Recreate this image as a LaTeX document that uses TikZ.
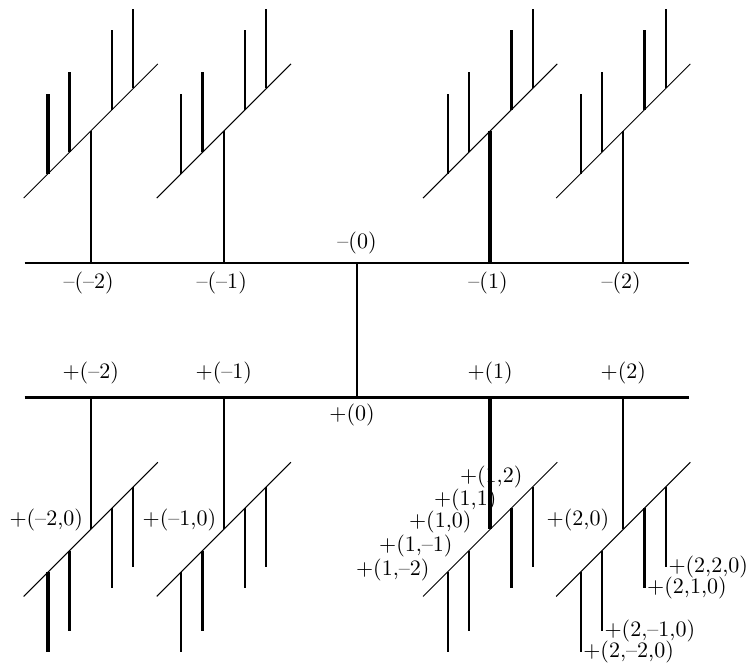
\documentclass[tikz,border=0pt]{standalone}
\usetikzlibrary{calc}
\begin{document}
\begin{tikzpicture}[x=0.34cm, y=0.34cm,
  bar/.style={line width=1.3pt},
  stem/.style={line width=0.9pt},
  heavy/.style={line width=1.6pt},
  diag/.style={line width=0.45pt},
  tag/.style={inner sep=1pt}]
  \useasboundingbox (-16.76,-18.83) rectangle (18.45,12.35);
  % the two bars and the link between them
  \coordinate (mL) at (-15.6,0);  \coordinate (mR) at (15.6,0);
  \coordinate (pL) at (-15.6,-6.3); \coordinate (pR) at (15.6,-6.3);
  \coordinate (m0) at (0,0);  \coordinate (p0) at (0,-6.3);
  \draw[bar] (mL) -- (mR);
  \draw[bar] (pL) -- (pR);
  \draw[stem] (m0) -- (p0);
  \node (ml0) at (0,0.94) {--(0)};
  \node (pl0) at (-0.23,-7.14) {+(0)};
  % one tree above and one below each point of the bars
  \foreach \k/\x/\lbl/\ms/\sa/\sb/\sc/\sd in {
      -2/-12.5/--2/stem/heavy/heavy/stem/stem,
      -1/-6.25/--1/stem/stem/heavy/stem/stem,
       1/6.25/1/heavy/stem/stem/heavy/stem,
       2/12.5/2/stem/stem/stem/heavy/stem}{
    \coordinate (m\k) at (\x,0);
    \coordinate (p\k) at (\x,-6.3);
    \coordinate (mj\k) at (\x,6.2);
    \coordinate (pj\k) at (\x,-12.5);
    \node (ml\k) at ($(m\k)+(-0.1,-0.94)$) {--(\lbl)};
    \node (pl\k) at ($(p\k)+(0,1.14)$) {+(\lbl)};
    \draw[\ms] (m\k) -- (mj\k);
    \draw[\ms] (p\k) -- (pj\k);
    \foreach \s in {m,p}{
      \coordinate (\s a\k) at ($(\s j\k)+(-3.15,-3.15)$);
      \coordinate (\s b\k) at ($(\s j\k)+(3.15,3.15)$);
      \draw[diag] (\s a\k) -- (\s b\k);
    }
    \foreach \d/\st in {-2/\sa,-1/\sb,1/\sc,2/\sd}{
      \coordinate (mr\k\d) at ($(mj\k)+(\d,\d)$);
      \coordinate (mt\k\d) at ($(mr\k\d)+(0,3.75)$);
      \coordinate (pr\k\d) at ($(pj\k)+(\d,\d)$);
      \coordinate (pt\k\d) at ($(pr\k\d)+(0,-3.75)$);
      \draw[\st] (mr\k\d) -- (mt\k\d);
      \draw[\st] (pr\k\d) -- (pt\k\d);
    }
  }
  % labels of the lower trees
  \node[anchor=east] (q-2) at (-12.5,-12.07) {+(--2,0)};
  \node[anchor=east] (q-1) at (-6.25,-12.07) {+(--1,0)};
  \node[anchor=east] (q2) at (12.2,-12.07) {+(2,0)};
  \node[anchor=east] (q12) at (8.13,-10.05) {+(1,2)};
  \node[anchor=east] (q11) at (6.91,-11.13) {+(1,1)};
  \node[anchor=east] (q10) at (5.74,-12.16) {+(1,0)};
  \node[anchor=east] (q1-1) at (4.85,-13.29) {+(1,--1)};
  \node[anchor=east] (q1-2) at (3.77,-14.41) {+(1,--2)};
  \node[tag, anchor=west] (r22) at (pt22) {+(2,2,0)};
  \node[tag, anchor=west] (r21) at (pt21) {+(2,1,0)};
  \node[tag, anchor=west] (r2-1) at (pt2-1) {+(2,--1,0)};
  \node[tag, anchor=west] (r2-2) at (pt2-2) {+(2,--2,0)};
\end{tikzpicture}
\end{document}
